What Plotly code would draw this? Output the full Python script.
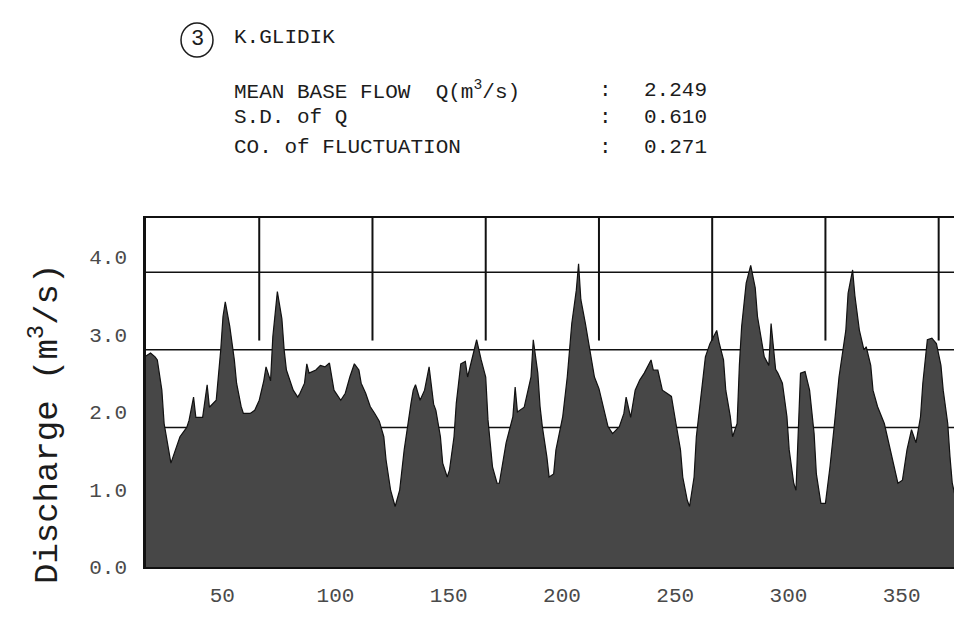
import plotly.graph_objects as go

# ---- data (day of year, base flow in m3/s) ----
days = [0, 2, 4, 5, 7, 8, 10, 11, 13, 15, 18, 19, 21, 22, 25, 27, 28, 31, 33, 34, 35, 37, 39, 40, 42, 43, 46, 48, 50,
        52, 53, 55, 56, 57, 58, 60, 61, 62, 64, 65, 67, 68, 70, 71, 72, 75, 77, 79, 81, 83, 86, 88, 90, 92, 94, 95, 97, 99,
        101, 103, 105, 106, 108, 110, 112, 114, 117, 118, 119, 121, 123, 125, 127, 128, 130, 131, 133, 134, 136, 137,
        139, 141, 142, 145, 146, 148, 150, 151, 153, 155, 156, 159, 162, 163, 164, 167, 170, 171, 173, 174, 175, 177,
        178, 180, 181, 184, 186, 188, 190, 191, 192, 194, 196, 198, 200, 202, 204, 206, 209, 211, 212, 214, 216, 218,
        220, 223, 224, 226, 228, 230, 232, 234, 236, 237, 239, 240, 242, 243, 245, 247, 249, 252, 253, 255, 256, 258,
        259, 261, 262, 263, 265, 267, 269, 270, 273, 275, 276, 278, 279, 281, 283, 284, 286, 287, 289, 291, 293, 295,
        296, 298, 300, 302, 304, 306, 309, 310, 312, 313, 315, 317, 318, 320, 321, 323, 326, 328, 330, 332, 334, 336,
        338, 340, 342, 343, 345, 347, 349, 351, 352, 354, 355, 356, 358, 360]
discharge = [2.72, 2.76, 2.71, 2.67, 2.28, 1.85, 1.51, 1.34, 1.51, 1.68, 1.80, 1.89, 2.19, 1.93, 1.93, 2.35, 2.06, 2.15,
             2.80, 3.23, 3.42, 3.10, 2.67, 2.37, 2.07, 1.98, 1.98, 2.02, 2.15,
             2.40, 2.58, 2.40, 2.97, 3.30, 3.55, 3.20, 2.80, 2.54, 2.37, 2.28, 2.19, 2.24, 2.37, 2.62, 2.50, 2.54, 2.60,
             2.58, 2.63, 2.28, 2.15, 2.24, 2.45, 2.62, 2.54, 2.37, 2.24, 2.07,
             1.98, 1.88, 1.68, 1.38, 0.99, 0.78, 0.99, 1.51, 2.11, 2.28, 2.35, 2.15, 2.28, 2.58, 2.10, 2.02, 1.68, 1.34,
             1.16, 1.25, 1.68, 2.11,
             2.62, 2.65, 2.45, 2.80, 2.93, 2.67, 2.45, 1.90, 1.29, 1.08, 1.08, 1.60, 1.94, 2.32, 2.00, 2.06, 2.45, 2.93,
             2.50, 2.07, 1.81, 1.42,
             1.16, 1.20, 1.51, 1.94, 2.45, 3.14, 3.57, 3.91, 3.45, 3.14, 2.80, 2.45, 2.30, 2.07, 1.81, 1.72, 1.81, 1.98,
             2.19, 1.93, 2.28, 2.41,
             2.50, 2.67, 2.54, 2.54, 2.28, 2.24, 2.20, 1.85, 1.51, 1.16, 0.86, 0.78, 1.16, 1.68, 2.24, 2.71, 2.88, 3.05,
             2.90, 2.67, 2.28, 1.94,
             1.68, 1.85, 2.60, 3.10, 3.66, 3.89, 3.60, 3.23, 2.71, 2.60, 3.14, 2.55, 2.50, 2.37, 1.94, 1.51, 1.08, 0.99,
             2.50, 2.52, 2.28, 1.72,
             1.20, 0.82, 0.82, 1.29, 1.85, 2.45, 3.05, 3.53, 3.83, 3.50, 3.05, 2.80, 2.84, 2.60, 2.28, 2.07, 1.85, 1.59,
             1.34, 1.08, 1.12, 1.51,
             1.77, 1.60, 1.94, 2.37, 2.93, 2.95, 2.88, 2.60, 2.28, 1.85, 1.42, 1.08, 0.82, 0.70]

x_ticks = [50, 100, 150, 200, 250, 300, 350]
x_tick_text = ["50", "100", "150", "200", "250", "300", "350"]
y_ticks = [0, 1, 2, 3, 4]
y_tick_text = ["0.0", "1.0", "2.0", "3.0", "4.0"]
grid_levels = [0.8, 1.8, 2.8, 3.8]
station_number = "3"
station_name = "K.GLIDIK"
stat_labels = ["MEAN BASE FLOW\u00a0\u00a0Q(m<sup>3</sup>/s)", "S.D. of Q", "CO. of FLUCTUATION"]
stat_values = ["2.249", "0.610", "0.271"]

# ---- layout geometry (screen pixels; the page body adds an 8 px offset) ----
OFF = 8
W, H = 962 - OFF, 618 - OFF
PL, PR, PT, PB = 146, 962, 218, 567  # plot box on screen
X_RANGE = [0, 360.3]
Y_RANGE = [0, 4.5]


def px2x(px):
    return (px - PL) / (PR - PL)


def py2y(py):
    return (PB - py) / (PB - PT)


MONO = "Liberation Mono, Courier New, monospace"
INK = "#1c1c1c"
GREY = "#4a4a4a"

fig = go.Figure()
fig.add_trace(go.Scatter(
    x=days, y=discharge, mode="lines", fill="tozeroy",
    line=dict(color="#111111", width=1.2, shape="linear"),
    fillcolor="#474747", hoverinfo="x+y", showlegend=False,
))

shapes = []
for lv in grid_levels:
    shapes.append(dict(type="line", xref="paper", yref="y", x0=0, x1=1, y0=lv, y1=lv,
                       line=dict(color="#111111", width=1.5), layer="below"))
for d in x_ticks:
    shapes.append(dict(type="line", xref="x", yref="y", x0=d, x1=d, y0=2.92, y1=Y_RANGE[1],
                       line=dict(color="#111111", width=2), layer="above"))
# hand-drawn circle around the station number
shapes.append(dict(type="circle", xref="paper", yref="paper",
                   x0=px2x(181), x1=px2x(213), y0=py2y(57), y1=py2y(23),
                   line=dict(color=INK, width=1.5)))

annotations = [
    dict(text=station_number, x=px2x(197), y=py2y(40), xref="paper", yref="paper",
         showarrow=False, xanchor="center", yanchor="middle", font=dict(family=MONO, size=22, color=INK)),
    dict(text=station_name, x=px2x(232), y=py2y(38), xref="paper", yref="paper",
         showarrow=False, xanchor="left", yanchor="middle", font=dict(family=MONO, size=21, color=INK)),
]
row_y = [90, 118, 147]
for lab, val, ry in zip(stat_labels, stat_values, row_y):
    annotations.append(dict(text=lab, x=px2x(232), y=py2y(ry), xref="paper", yref="paper", showarrow=False,
                            xanchor="left", yanchor="middle", font=dict(family=MONO, size=21, color=INK)))
    annotations.append(dict(text=":", x=px2x(605), y=py2y(ry), xref="paper", yref="paper", showarrow=False,
                            xanchor="center", yanchor="middle", font=dict(family=MONO, size=21, color=INK)))
    annotations.append(dict(text=val, x=px2x(642), y=py2y(ry), xref="paper", yref="paper", showarrow=False,
                            xanchor="left", yanchor="middle", font=dict(family=MONO, size=21, color=INK)))
annotations.append(dict(text="Discharge (m<sup>3</sup>/s)", x=px2x(45), y=py2y(424), xref="paper", yref="paper",
                        showarrow=False, textangle=-90, xanchor="center", yanchor="middle",
                        font=dict(family=MONO, size=34, color=INK)))

fig.update_layout(
    width=W, height=H,
    margin=dict(l=PL - OFF, r=(962 - PR), t=PT - OFF, b=618 - PB, pad=0),
    paper_bgcolor="white", plot_bgcolor="white",
    shapes=shapes, annotations=annotations,
    xaxis=dict(range=X_RANGE, tickmode="array", tickvals=x_ticks, ticktext=x_tick_text,
               showgrid=False, zeroline=False, showline=True, linecolor="#111111", linewidth=2,
               mirror=True, ticks="", ticklabelshift=-37, ticklabelstandoff=8,
               tickfont=dict(family=MONO, size=21, color=GREY)),
    yaxis=dict(range=Y_RANGE, tickmode="array", tickvals=y_ticks, ticktext=y_tick_text,
               showgrid=False, zeroline=False, showline=True, linecolor="#111111", linewidth=2.5,
               mirror=False, ticks="", ticklabelstandoff=12,
               tickfont=dict(family=MONO, size=21, color=GREY)),
)

fig.write_html("out.html")
